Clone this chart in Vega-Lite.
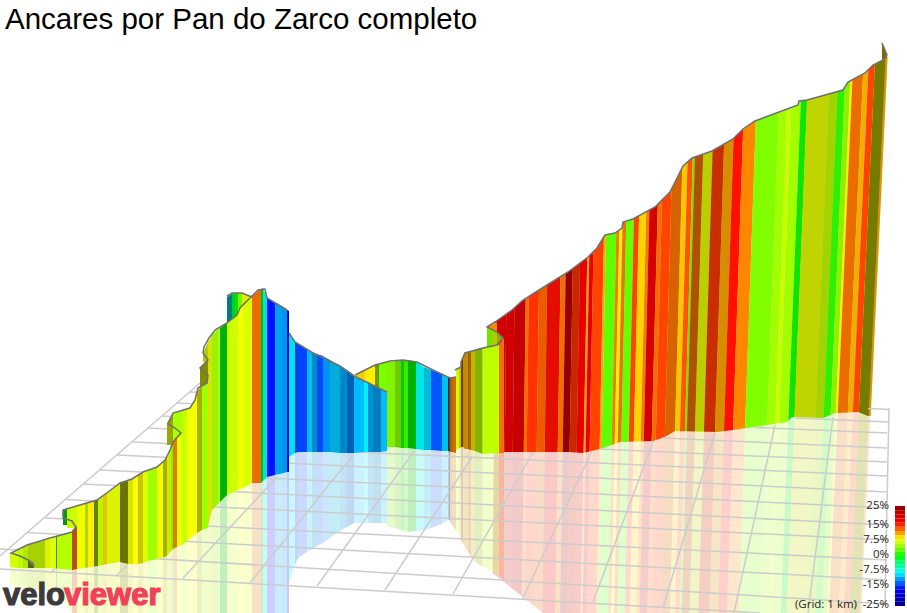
{"$schema":"https://vega.github.io/schema/vega-lite/v6.json","width":907,"height":613,"padding":0,"autosize":"none","background":"white","title":{"text":"Ancares por Pan do Zarco completo","anchor":"start","frame":"group","font":"Liberation Sans","fontSize":29.5,"fontWeight":"normal","color":"#000","offset":-35,"dx":5},"config":{"view":{"stroke":null}},
"datasets":{
"wallB":[
{"b":1,"y":40,"x":497.8,"xr":509.2,"g":19,"d":0},{"b":1,"y":613,"x":492.2,"xr":503,"g":19,"d":0},
{"b":2,"y":40,"x":509.2,"xr":517.5,"g":19,"d":0},{"b":2,"y":613,"x":503,"xr":510.9,"g":19,"d":0},
{"b":3,"y":40,"x":517.5,"xr":529,"g":19,"d":0.05},{"b":3,"y":613,"x":510.9,"xr":521.7,"g":19,"d":0.05},
{"b":4,"y":40,"x":529,"xr":532.1,"g":11.5,"d":0.05},{"b":4,"y":613,"x":521.7,"xr":524.6,"g":11.5,"d":0.05},
{"b":5,"y":40,"x":532.1,"xr":542.5,"g":13.5,"d":0},{"b":5,"y":613,"x":524.6,"xr":534.4,"g":13.5,"d":0},
{"b":6,"y":40,"x":542.5,"xr":550.8,"g":12,"d":0.08},{"b":6,"y":613,"x":534.4,"xr":542.3,"g":12,"d":0.08},
{"b":7,"y":40,"x":550.8,"xr":564.3,"g":14.5,"d":0.1},{"b":7,"y":613,"x":542.3,"xr":555.1,"g":14.5,"d":0.1},
{"b":8,"y":40,"x":564.3,"xr":569.5,"g":11.5,"d":0.05},{"b":8,"y":613,"x":555.1,"xr":560,"g":11.5,"d":0.05},
{"b":9,"y":40,"x":569.5,"xr":576.7,"g":24,"d":0},{"b":9,"y":613,"x":560,"xr":566.8,"g":24,"d":0},
{"b":10,"y":40,"x":576.7,"xr":584,"g":13.5,"d":0.2},{"b":10,"y":613,"x":566.8,"xr":573.7,"g":13.5,"d":0.2},
{"b":11,"y":40,"x":584,"xr":591.3,"g":17,"d":0},{"b":11,"y":613,"x":573.7,"xr":580.6,"g":17,"d":0},
{"b":12,"y":40,"x":591.3,"xr":593.4,"g":10,"d":0},{"b":12,"y":613,"x":580.6,"xr":582.5,"g":10,"d":0},
{"b":13,"y":40,"x":593.4,"xr":597.5,"g":17,"d":0},{"b":13,"y":613,"x":582.5,"xr":586.5,"g":17,"d":0},
{"b":14,"y":40,"x":597.5,"xr":607.9,"g":13,"d":0},{"b":14,"y":613,"x":586.5,"xr":596.3,"g":13,"d":0},
{"b":15,"y":40,"x":607.9,"xr":610,"g":10,"d":0},{"b":15,"y":613,"x":596.3,"xr":598.2,"g":10,"d":0},
{"b":16,"y":40,"x":610,"xr":620.4,"g":2.8,"d":0},{"b":16,"y":613,"x":598.2,"xr":608.1,"g":2.8,"d":0},
{"b":17,"y":40,"x":620.4,"xr":623.5,"g":11,"d":0.05},{"b":17,"y":613,"x":608.1,"xr":611,"g":11,"d":0.05},
{"b":18,"y":40,"x":623.5,"xr":626.6,"g":8,"d":0},{"b":18,"y":613,"x":611,"xr":614,"g":8,"d":0},
{"b":19,"y":40,"x":626.6,"xr":630.3,"g":11,"d":0.1},{"b":19,"y":613,"x":614,"xr":617.4,"g":11,"d":0.1},
{"b":20,"y":40,"x":630.3,"xr":638,"g":3,"d":0},{"b":20,"y":613,"x":617.4,"xr":624.8,"g":3,"d":0},
{"b":21,"y":40,"x":638,"xr":643.2,"g":13,"d":0},{"b":21,"y":613,"x":624.8,"xr":629.7,"g":13,"d":0},
{"b":22,"y":40,"x":643.2,"xr":650.5,"g":8.8,"d":0},{"b":22,"y":613,"x":629.7,"xr":636.5,"g":8.8,"d":0},
{"b":23,"y":40,"x":650.5,"xr":653.6,"g":11,"d":0.05},{"b":23,"y":613,"x":636.5,"xr":639.5,"g":11,"d":0.05},
{"b":24,"y":40,"x":653.6,"xr":662,"g":18.5,"d":0},{"b":24,"y":613,"x":639.5,"xr":647.3,"g":18.5,"d":0},
{"b":25,"y":40,"x":662,"xr":666.1,"g":11.5,"d":0.05},{"b":25,"y":613,"x":647.3,"xr":651.3,"g":11.5,"d":0.05},
{"b":26,"y":40,"x":666.1,"xr":675.5,"g":13,"d":0},{"b":26,"y":613,"x":651.3,"xr":660.1,"g":13,"d":0},
{"b":27,"y":40,"x":675.5,"xr":685.8,"g":11.5,"d":0.15},{"b":27,"y":613,"x":660.1,"xr":669.9,"g":11.5,"d":0.15},
{"b":28,"y":40,"x":685.8,"xr":691,"g":9,"d":0.02},{"b":28,"y":613,"x":669.9,"xr":674.8,"g":9,"d":0.02},
{"b":29,"y":40,"x":691,"xr":696.2,"g":12.5,"d":0},{"b":29,"y":613,"x":674.8,"xr":679.7,"g":12.5,"d":0},
{"b":30,"y":40,"x":696.2,"xr":698.3,"g":4,"d":0.1},{"b":30,"y":613,"x":679.7,"xr":681.7,"g":4,"d":0.1},
{"b":31,"y":40,"x":698.3,"xr":706.6,"g":11.5,"d":0.3},{"b":31,"y":613,"x":681.7,"xr":689.5,"g":11.5,"d":0.3},
{"b":32,"y":40,"x":706.6,"xr":716,"g":6.8,"d":0.18},{"b":32,"y":613,"x":689.5,"xr":698.4,"g":6.8,"d":0.18},
{"b":33,"y":40,"x":716,"xr":727.4,"g":13.3,"d":0.2},{"b":33,"y":613,"x":698.4,"xr":709.2,"g":13.3,"d":0.2},
{"b":34,"y":40,"x":727.4,"xr":736.8,"g":10,"d":0.15},{"b":34,"y":613,"x":709.2,"xr":718,"g":10,"d":0.15},
{"b":35,"y":40,"x":736.8,"xr":746.1,"g":14.5,"d":0},{"b":35,"y":613,"x":718,"xr":726.9,"g":14.5,"d":0},
{"b":36,"y":40,"x":746.1,"xr":758.6,"g":11,"d":0},{"b":36,"y":613,"x":726.9,"xr":738.6,"g":11,"d":0},
{"b":37,"y":40,"x":758.6,"xr":781.4,"g":3.8,"d":0},{"b":37,"y":613,"x":738.6,"xr":760.2,"g":3.8,"d":0},
{"b":38,"y":40,"x":781.4,"xr":789.7,"g":4.8,"d":0},{"b":38,"y":613,"x":760.2,"xr":768.1,"g":4.8,"d":0},
{"b":39,"y":40,"x":789.7,"xr":793.9,"g":5.9,"d":0},{"b":39,"y":613,"x":768.1,"xr":772,"g":5.9,"d":0},
{"b":40,"y":40,"x":793.9,"xr":803.2,"g":4.8,"d":0},{"b":40,"y":613,"x":772,"xr":780.8,"g":4.8,"d":0},
{"b":41,"y":40,"x":803.2,"xr":809.5,"g":0.6,"d":0.1},{"b":41,"y":613,"x":780.8,"xr":786.7,"g":0.6,"d":0.1},
{"b":42,"y":40,"x":809.5,"xr":831.3,"g":6.8,"d":0.16},{"b":42,"y":613,"x":786.7,"xr":807.3,"g":6.8,"d":0.16},
{"b":43,"y":40,"x":831.3,"xr":839.6,"g":5.8,"d":0.16},{"b":43,"y":613,"x":807.3,"xr":815.2,"g":5.8,"d":0.16},
{"b":44,"y":40,"x":839.6,"xr":846.9,"g":1.5,"d":0.05},{"b":44,"y":613,"x":815.2,"xr":822.1,"g":1.5,"d":0.05},
{"b":45,"y":40,"x":846.9,"xr":852.1,"g":4.5,"d":0.05},{"b":45,"y":613,"x":822.1,"xr":827,"g":4.5,"d":0.05},
{"b":46,"y":40,"x":852.1,"xr":854.2,"g":8,"d":0},{"b":46,"y":613,"x":827,"xr":828.9,"g":8,"d":0},
{"b":47,"y":40,"x":854.2,"xr":864.6,"g":11.5,"d":0.07},{"b":47,"y":613,"x":828.9,"xr":838.8,"g":11.5,"d":0.07},
{"b":48,"y":40,"x":864.6,"xr":869.7,"g":9.5,"d":0.05},{"b":48,"y":613,"x":838.8,"xr":843.7,"g":9.5,"d":0.05},
{"b":49,"y":40,"x":869.7,"xr":876,"g":13,"d":0},{"b":49,"y":613,"x":843.7,"xr":849.6,"g":13,"d":0},
{"b":50,"y":40,"x":876,"xr":886.4,"g":7.2,"d":0.52},{"b":50,"y":613,"x":849.6,"xr":859.4,"g":7.2,"d":0.52},
{"b":51,"y":40,"x":886.4,"xr":888.4,"g":10,"d":0.12},{"b":51,"y":613,"x":859.4,"xr":861.3,"g":10,"d":0.12}
],
"wallBack":[
{"b":1,"x":63,"t":510,"u":525,"g":0,"d":0.4},{"b":1,"x":67,"t":508,"u":525,"g":0,"d":0.4},
{"b":2,"x":67,"t":508,"u":528,"g":6,"d":0},{"b":2,"x":78,"t":505,"u":528,"g":6,"d":0},
{"b":3,"x":167,"t":423,"u":445,"g":7,"d":0.35},{"b":3,"x":173,"t":413,"u":445,"g":7,"d":0.35},
{"b":4,"x":173,"t":413,"u":440,"g":5,"d":0},{"b":4,"x":182,"t":410,"u":440,"g":5,"d":0},
{"b":5,"x":203,"t":353,"u":362,"g":6.5,"d":0.2},{"b":5,"x":209,"t":340,"u":362,"g":6.5,"d":0.2},
{"b":6,"x":200,"t":368,"u":395,"g":7,"d":0.45},{"b":6,"x":208,"t":360,"u":395,"g":7,"d":0.45},
{"b":7,"x":227,"t":297,"u":330,"g":-7,"d":0.5},{"b":7,"x":232,"t":294,"u":325,"g":-7,"d":0.5},
{"b":8,"x":232,"t":294,"u":325,"g":-1.5,"d":0.2},{"b":8,"x":235,"t":293,"u":320,"g":-1.5,"d":0.2},
{"b":9,"x":235,"t":293,"u":320,"g":0,"d":0.1},{"b":9,"x":238,"t":293,"u":315,"g":0,"d":0.1},
{"b":10,"x":238,"t":293,"u":315,"g":4,"d":0.05},{"b":10,"x":242,"t":293,"u":312,"g":4,"d":0.05},
{"b":11,"x":242,"t":293,"u":312,"g":6.8,"d":0.05},{"b":11,"x":252,"t":297,"u":305,"g":6.8,"d":0.05},
{"b":12,"x":355,"t":375,"u":400,"g":8.5,"d":0.05},{"b":12,"x":365,"t":370,"u":400,"g":8.5,"d":0.05},
{"b":13,"x":365,"t":370,"u":405,"g":8,"d":0},{"b":13,"x":375,"t":365,"u":405,"g":8,"d":0},
{"b":14,"x":375,"t":365,"u":447,"g":5.5,"d":0.4},{"b":14,"x":379,"t":364,"u":447,"g":5.5,"d":0.4},
{"b":15,"x":379,"t":364,"u":447,"g":3.6,"d":0},{"b":15,"x":387,"t":362,"u":447,"g":3.6,"d":0},
{"b":16,"x":487,"t":327,"u":328,"g":11,"d":0},{"b":16,"x":497,"t":322,"u":332,"g":11,"d":0},
{"b":17,"x":487,"t":327,"u":349,"g":3.7,"d":0.1},{"b":17,"x":492,"t":329,"u":348,"g":3.7,"d":0.1},
{"b":18,"x":492,"t":329,"u":348,"g":6.5,"d":0.2},{"b":18,"x":497,"t":332,"u":346,"g":6.5,"d":0.2},
{"b":19,"x":497,"t":332,"u":346,"g":7,"d":0.35},{"b":19,"x":503,"t":338,"u":339,"g":7,"d":0.35},
{"b":20,"x":882,"t":43,"u":60,"g":9,"d":0.5},{"b":20,"x":887,"t":55,"u":58,"g":9,"d":0.5}
],
"wallFront":[
{"b":1,"x":10,"t":553.5,"u":567,"r":584,"g":6.2,"d":0},{"b":1,"x":18,"t":550,"u":568,"r":586,"g":6.2,"d":0},
{"b":2,"x":18,"t":550,"u":568,"r":586,"g":5.4,"d":0},{"b":2,"x":23,"t":547.5,"u":568,"r":588,"g":5.4,"d":0},
{"b":3,"x":23,"t":547.5,"u":568,"r":588,"g":6,"d":0.1},{"b":3,"x":28,"t":545,"u":568,"r":589,"g":6,"d":0.1},
{"b":4,"x":28,"t":545,"u":568,"r":589,"g":6,"d":0.18},{"b":4,"x":45,"t":540,"u":568,"r":590,"g":6,"d":0.18},
{"b":5,"x":45,"t":540,"u":568,"r":590,"g":6.8,"d":0.05},{"b":5,"x":50,"t":538.5,"u":568,"r":591,"g":6.8,"d":0.05},
{"b":6,"x":50,"t":538.5,"u":568,"r":591,"g":6.5,"d":0},{"b":6,"x":56,"t":536.5,"u":568.5,"r":592,"g":6.5,"d":0},
{"b":7,"x":56,"t":536.5,"u":568.5,"r":592,"g":6,"d":0.5},{"b":7,"x":57,"t":536,"u":568.5,"r":592,"g":6,"d":0.5},
{"b":8,"x":57,"t":536,"u":568.5,"r":592,"g":5.3,"d":0},{"b":8,"x":72,"t":532,"u":570,"r":613,"g":5.3,"d":0},
{"b":9,"x":72,"t":531,"u":570,"r":613,"g":12,"d":0.25},{"b":9,"x":77,"t":526,"u":569,"r":613,"g":12,"d":0.25},
{"b":10,"x":28,"t":560,"u":568,"r":568,"g":6,"d":0.5},{"b":10,"x":34,"t":566,"u":568,"r":568,"g":6,"d":0.5},
{"b":11,"x":77,"t":505,"u":569,"r":613,"g":7,"d":0},{"b":11,"x":82,"t":504,"u":568.5,"r":613,"g":7,"d":0},
{"b":12,"x":82,"t":504,"u":568.5,"r":613,"g":7.2,"d":0},{"b":12,"x":85,"t":503,"u":568,"r":613,"g":7.2,"d":0},
{"b":13,"x":85,"t":503,"u":568,"r":613,"g":6,"d":0.15},{"b":13,"x":88,"t":502.6,"u":567.5,"r":613,"g":6,"d":0.15},
{"b":14,"x":88,"t":502.6,"u":567.5,"r":613,"g":8,"d":0},{"b":14,"x":94,"t":501,"u":566.5,"r":613,"g":8,"d":0},
{"b":15,"x":94,"t":501,"u":566.5,"r":613,"g":6,"d":0.5},{"b":15,"x":98,"t":499.5,"u":566,"r":613,"g":6,"d":0.5},
{"b":16,"x":98,"t":499.5,"u":566,"r":613,"g":5.8,"d":0.05},{"b":16,"x":103,"t":496,"u":565,"r":613,"g":5.8,"d":0.05},
{"b":17,"x":103,"t":496,"u":565,"r":613,"g":8.5,"d":0.1},{"b":17,"x":107,"t":493,"u":564,"r":613,"g":8.5,"d":0.1},
{"b":18,"x":107,"t":493,"u":564,"r":613,"g":6.8,"d":0.05},{"b":18,"x":120,"t":483,"u":562,"r":613,"g":6.8,"d":0.05},
{"b":19,"x":120,"t":483,"u":562,"r":613,"g":7,"d":0.55},{"b":19,"x":128,"t":481,"u":564,"r":613,"g":7,"d":0.55},
{"b":20,"x":128,"t":481,"u":564,"r":613,"g":7,"d":0.1},{"b":20,"x":133,"t":478,"u":564,"r":613,"g":7,"d":0.1},
{"b":21,"x":133,"t":478,"u":564,"r":613,"g":7.3,"d":0},{"b":21,"x":138,"t":475,"u":564,"r":613,"g":7.3,"d":0},
{"b":22,"x":138,"t":475,"u":564,"r":613,"g":7.8,"d":0.2},{"b":22,"x":143,"t":472,"u":563,"r":613,"g":7.8,"d":0.2},
{"b":23,"x":143,"t":472,"u":563,"r":613,"g":6.5,"d":0},{"b":23,"x":148,"t":470,"u":561,"r":613,"g":6.5,"d":0},
{"b":24,"x":148,"t":470,"u":561,"r":613,"g":4.7,"d":0},{"b":24,"x":157,"t":467,"u":559,"r":613,"g":4.7,"d":0},
{"b":25,"x":157,"t":467,"u":559,"r":613,"g":7.2,"d":0},{"b":25,"x":163,"t":462,"u":557.5,"r":613,"g":7.2,"d":0},
{"b":26,"x":163,"t":462,"u":557.5,"r":613,"g":7,"d":0.3},{"b":26,"x":167,"t":457,"u":556,"r":613,"g":7,"d":0.3},
{"b":27,"x":167,"t":457,"u":556,"r":613,"g":7.2,"d":0.1},{"b":27,"x":171,"t":447,"u":551,"r":613,"g":7.2,"d":0.1},
{"b":28,"x":171,"t":447,"u":551,"r":613,"g":3,"d":0},{"b":28,"x":173,"t":442,"u":549,"r":613,"g":3,"d":0},
{"b":29,"x":173,"t":442,"u":549,"r":613,"g":11,"d":0.1},{"b":29,"x":177,"t":437,"u":547,"r":613,"g":11,"d":0.1},
{"b":30,"x":177,"t":437,"u":547,"r":613,"g":6.8,"d":0},{"b":30,"x":182,"t":433,"u":545,"r":613,"g":6.8,"d":0},
{"b":31,"x":182,"t":410,"u":545,"r":613,"g":5.8,"d":0},{"b":31,"x":187,"t":409,"u":541,"r":613,"g":5.8,"d":0},
{"b":32,"x":187,"t":409,"u":541,"r":613,"g":7.2,"d":0},{"b":32,"x":192,"t":405,"u":537,"r":613,"g":7.2,"d":0},{"b":32,"x":197,"t":392,"u":533,"r":613,"g":7.2,"d":0},
{"b":33,"x":197,"t":392,"u":533,"r":613,"g":7,"d":0.3},{"b":33,"x":202,"t":385,"u":530,"r":613,"g":7,"d":0.3},
{"b":34,"x":202,"t":385,"u":530,"r":613,"g":4.7,"d":0},{"b":34,"x":208,"t":383,"u":528,"r":613,"g":4.7,"d":0},
{"b":35,"x":208,"t":342,"u":526,"r":613,"g":7,"d":0.1},{"b":35,"x":212,"t":335,"u":510,"r":613,"g":7,"d":0.1},
{"b":36,"x":212,"t":335,"u":510,"r":613,"g":4.8,"d":0.05},{"b":36,"x":218,"t":329,"u":504,"r":613,"g":4.8,"d":0.05},
{"b":37,"x":218,"t":329,"u":504,"r":613,"g":5.3,"d":0},{"b":37,"x":220,"t":328,"u":502,"r":613,"g":5.3,"d":0},
{"b":38,"x":220,"t":328,"u":502,"r":613,"g":0,"d":0.3},{"b":38,"x":227,"t":323,"u":495,"r":613,"g":0,"d":0.3},
{"b":39,"x":227,"t":323,"u":495,"r":613,"g":6,"d":0},{"b":39,"x":238,"t":314,"u":490,"r":613,"g":6,"d":0},
{"b":40,"x":238,"t":309,"u":490,"r":613,"g":7.2,"d":0},{"b":40,"x":243,"t":305,"u":488,"r":613,"g":7.2,"d":0},
{"b":41,"x":243,"t":304,"u":488,"r":613,"g":6.4,"d":0},{"b":41,"x":252,"t":296,"u":483,"r":613,"g":6.4,"d":0},
{"b":42,"x":252,"t":296,"u":483,"r":613,"g":11.5,"d":0.08},{"b":42,"x":261,"t":289,"u":483,"r":613,"g":11.5,"d":0.08},
{"b":43,"x":261,"t":289,"u":483,"r":613,"g":-1,"d":0.25},{"b":43,"x":263,"t":288,"u":481,"r":613,"g":-1,"d":0.25},
{"b":44,"x":263,"t":288,"u":481,"r":613,"g":-7,"d":0.1},{"b":44,"x":267,"t":298,"u":477,"r":613,"g":-7,"d":0.1},
{"b":45,"x":267,"t":298,"u":477,"r":613,"g":-14.5,"d":0},{"b":45,"x":275,"t":303,"u":475,"r":613,"g":-14.5,"d":0},
{"b":46,"x":275,"t":303,"u":475,"r":613,"g":-10,"d":0.05},{"b":46,"x":282,"t":306,"u":473.5,"r":613,"g":-10,"d":0.05},
{"b":47,"x":282,"t":306,"u":473.5,"r":613,"g":-10,"d":0.1},{"b":47,"x":287,"t":310,"u":472,"r":613,"g":-10,"d":0.1},
{"b":48,"x":287,"t":310,"u":472,"r":613,"g":-15,"d":0.1},{"b":48,"x":289,"t":311,"u":472,"r":613,"g":-15,"d":0.1},
{"b":49,"x":289,"t":333,"u":457,"r":582,"g":-8,"d":0.05},{"b":49,"x":295,"t":342,"u":453,"r":565,"g":-8,"d":0.05},
{"b":50,"x":295,"t":342,"u":453,"r":565,"g":-13,"d":0.1},{"b":50,"x":298,"t":344,"u":452,"r":558,"g":-13,"d":0.1},
{"b":51,"x":298,"t":344,"u":452,"r":558,"g":-13,"d":0},{"b":51,"x":307,"t":349,"u":452,"r":552,"g":-13,"d":0},
{"b":52,"x":307,"t":349,"u":452,"r":552,"g":-9.5,"d":0},{"b":52,"x":312,"t":352,"u":452,"r":549,"g":-9.5,"d":0},
{"b":53,"x":312,"t":352,"u":452,"r":549,"g":-9.5,"d":0.25},{"b":53,"x":317,"t":354,"u":452,"r":546,"g":-9.5,"d":0.25},
{"b":54,"x":317,"t":354,"u":452,"r":546,"g":-12.8,"d":0},{"b":54,"x":323,"t":356,"u":452,"r":543,"g":-12.8,"d":0},
{"b":55,"x":323,"t":356,"u":452,"r":543,"g":-10.5,"d":0.05},{"b":55,"x":330,"t":360,"u":452,"r":538,"g":-10.5,"d":0.05},
{"b":56,"x":330,"t":360,"u":452,"r":538,"g":-9,"d":0.15},{"b":56,"x":340,"t":366,"u":453,"r":531,"g":-9,"d":0.15},
{"b":57,"x":340,"t":366,"u":453,"r":531,"g":-10,"d":0.2},{"b":57,"x":347,"t":370,"u":453,"r":527,"g":-10,"d":0.2},
{"b":58,"x":347,"t":370,"u":453,"r":527,"g":-11,"d":0.3},{"b":58,"x":354,"t":375,"u":453,"r":523,"g":-11,"d":0.3},
{"b":59,"x":354,"t":377,"u":453,"r":523,"g":-9.5,"d":0},{"b":59,"x":364,"t":380,"u":452,"r":523,"g":-9.5,"d":0},
{"b":60,"x":364,"t":380,"u":452,"r":523,"g":-8,"d":0},{"b":60,"x":368,"t":382,"u":452,"r":523,"g":-8,"d":0},
{"b":61,"x":368,"t":382,"u":452,"r":523,"g":-10,"d":0.15},{"b":61,"x":373,"t":385,"u":452,"r":523,"g":-10,"d":0.15},
{"b":62,"x":373,"t":385,"u":452,"r":523,"g":-10,"d":0.25},{"b":62,"x":381,"t":389,"u":452,"r":523,"g":-10,"d":0.25},
{"b":63,"x":381,"t":389,"u":452,"r":523,"g":-9.5,"d":0},{"b":63,"x":387,"t":392,"u":451,"r":523,"g":-9.5,"d":0},
{"b":64,"x":387,"t":362,"u":447,"r":526,"g":4,"d":0.05},{"b":64,"x":395,"t":361,"u":447,"r":528,"g":4,"d":0.05},
{"b":65,"x":395,"t":361,"u":447,"r":528,"g":4,"d":0.2},{"b":65,"x":401,"t":360,"u":448,"r":530,"g":4,"d":0.2},
{"b":66,"x":401,"t":360,"u":448,"r":530,"g":0,"d":0.2},{"b":66,"x":404,"t":360,"u":448,"r":531,"g":0,"d":0.2},
{"b":67,"x":404,"t":360,"u":448,"r":531,"g":2,"d":0.1},{"b":67,"x":408,"t":360,"u":448,"r":532,"g":2,"d":0.1},
{"b":68,"x":408,"t":360,"u":448,"r":532,"g":0,"d":0.3},{"b":68,"x":416,"t":362,"u":449,"r":531,"g":0,"d":0.3},
{"b":69,"x":416,"t":362,"u":449,"r":531,"g":-7.5,"d":0.1},{"b":69,"x":424,"t":367,"u":450,"r":530,"g":-7.5,"d":0.1},
{"b":70,"x":424,"t":367,"u":450,"r":530,"g":-8.5,"d":0.15},{"b":70,"x":431,"t":370,"u":450,"r":528,"g":-8.5,"d":0.15},
{"b":71,"x":431,"t":370,"u":450,"r":528,"g":-12.5,"d":0},{"b":71,"x":442,"t":374,"u":451,"r":524,"g":-12.5,"d":0},
{"b":72,"x":442,"t":374,"u":451,"r":524,"g":-9,"d":0.05},{"b":72,"x":448,"t":377.5,"u":451,"r":520,"g":-9,"d":0.05},
{"b":73,"x":448,"t":377.5,"u":451,"r":520,"g":-13,"d":0.4},{"b":73,"x":450,"t":378,"u":451,"r":520,"g":-13,"d":0.4},
{"b":74,"x":449,"t":378,"u":452,"r":520,"g":10.5,"d":0.35},{"b":74,"x":452,"t":377,"u":452,"r":525,"g":10.5,"d":0.35},
{"b":75,"x":452,"t":377,"u":452,"r":525,"g":11,"d":0.2},{"b":75,"x":456,"t":377,"u":453,"r":530,"g":11,"d":0.2},
{"b":76,"x":456,"t":370,"u":450,"r":530,"g":6,"d":0},{"b":76,"x":459,"t":368,"u":448,"r":535,"g":6,"d":0},
{"b":77,"x":459,"t":368,"u":448,"r":535,"g":7,"d":0.2},{"b":77,"x":461,"t":367,"u":448,"r":540,"g":7,"d":0.2},
{"b":78,"x":461,"t":362,"u":447,"r":540,"g":12,"d":0.5},{"b":78,"x":463,"t":358,"u":447,"r":543,"g":12,"d":0.5},
{"b":79,"x":463,"t":358,"u":447,"r":543,"g":9,"d":0.3},{"b":79,"x":465,"t":353,"u":449,"r":547,"g":9,"d":0.3},
{"b":80,"x":465,"t":353,"u":449,"r":547,"g":10,"d":0.2},{"b":80,"x":468,"t":352,"u":449,"r":552,"g":10,"d":0.2},
{"b":81,"x":468,"t":352,"u":449,"r":552,"g":10,"d":0.4},{"b":81,"x":471,"t":351,"u":450,"r":557,"g":10,"d":0.4},
{"b":82,"x":471,"t":351,"u":450,"r":557,"g":8.5,"d":0.2},{"b":82,"x":475,"t":350,"u":451,"r":562,"g":8.5,"d":0.2},
{"b":83,"x":475,"t":350,"u":451,"r":562,"g":5.5,"d":0.3},{"b":83,"x":482.5,"t":348,"u":454,"r":567,"g":5.5,"d":0.3},
{"b":84,"x":482.5,"t":348,"u":454,"r":567,"g":5.6,"d":0},{"b":84,"x":499,"t":345,"u":453,"r":575,"g":5.6,"d":0},
{"b":85,"x":499,"t":345,"u":453,"r":575,"g":11.5,"d":0.05},{"b":85,"x":504,"t":338,"u":453,"r":580,"g":11.5,"d":0.05}
],
"ridge":[
{"s":1,"x":34,"y":567},{"s":1,"x":33,"y":563},{"s":1,"x":28,"y":560},{"s":1,"x":20,"y":556},{"s":1,"x":11,"y":553},{"s":1,"x":27,"y":545},{"s":1,"x":50,"y":538},{"s":1,"x":72,"y":532},{"s":1,"x":76,"y":527},{"s":1,"x":72,"y":521},{"s":1,"x":63,"y":518},{"s":1,"x":63,"y":510},{"s":1,"x":80,"y":505},{"s":1,"x":97,"y":500},{"s":1,"x":108,"y":492},{"s":1,"x":120,"y":483},{"s":1,"x":132,"y":479},{"s":1,"x":143,"y":472},{"s":1,"x":157,"y":467},{"s":1,"x":165,"y":460},{"s":1,"x":170,"y":450},{"s":1,"x":173,"y":442},{"s":1,"x":181,"y":433},{"s":1,"x":175,"y":428},{"s":1,"x":168,"y":424},{"s":1,"x":173,"y":413},{"s":1,"x":190,"y":408},{"s":1,"x":195,"y":400},{"s":1,"x":198,"y":388},{"s":1,"x":207,"y":383},{"s":1,"x":208,"y":375},{"s":1,"x":200,"y":368},{"s":1,"x":208,"y":360},{"s":1,"x":203,"y":353},{"s":1,"x":204,"y":347},{"s":1,"x":209,"y":338},{"s":1,"x":215,"y":330},{"s":1,"x":227,"y":323},{"s":1,"x":237,"y":315},{"s":1,"x":240,"y":308},{"s":1,"x":250,"y":298},{"s":1,"x":258,"y":290},{"s":1,"x":265,"y":289},{"s":1,"x":267,"y":298},{"s":1,"x":287,"y":310},
{"s":2,"x":227,"y":296},{"s":2,"x":232,"y":293},{"s":2,"x":242,"y":293},{"s":2,"x":252,"y":297},
{"s":3,"x":289,"y":333},{"s":3,"x":295,"y":342},{"s":3,"x":313,"y":353},{"s":3,"x":340,"y":366},{"s":3,"x":354,"y":376},{"s":3,"x":387,"y":392},
{"s":4,"x":355,"y":375},{"s":4,"x":365,"y":370},{"s":4,"x":375,"y":365},{"s":4,"x":390,"y":361},{"s":4,"x":403,"y":360},{"s":4,"x":417,"y":362},{"s":4,"x":433,"y":370},{"s":4,"x":450,"y":378},{"s":4,"x":456,"y":377},
{"s":5,"x":455,"y":370},{"s":5,"x":461,"y":367},{"s":5,"x":461,"y":362},{"s":5,"x":465,"y":353},{"s":5,"x":483,"y":348},{"s":5,"x":497,"y":345},{"s":5,"x":503,"y":338},{"s":5,"x":497,"y":332},{"s":5,"x":487,"y":327},{"s":5,"x":495,"y":322},{"s":5,"x":512,"y":310},{"s":5,"x":523,"y":300},{"s":5,"x":547,"y":285},{"s":5,"x":568,"y":272},{"s":5,"x":588,"y":257},{"s":5,"x":597,"y":248},{"s":5,"x":605,"y":235},{"s":5,"x":615,"y":233},{"s":5,"x":622,"y":228},{"s":5,"x":623,"y":222},{"s":5,"x":633,"y":219},{"s":5,"x":655,"y":207},{"s":5,"x":670,"y":192},{"s":5,"x":675,"y":182},{"s":5,"x":683,"y":166},{"s":5,"x":692,"y":158},{"s":5,"x":712,"y":151},{"s":5,"x":733,"y":139},{"s":5,"x":743,"y":129},{"s":5,"x":755,"y":121},{"s":5,"x":798,"y":105},{"s":5,"x":799,"y":101},{"s":5,"x":807,"y":100},{"s":5,"x":843,"y":90},{"s":5,"x":848,"y":82},{"s":5,"x":865,"y":73},{"s":5,"x":873,"y":65},{"s":5,"x":883,"y":60},{"s":5,"x":887,"y":55},{"s":5,"x":882,"y":43}
],
"topMask":[{"x":493,"y":323.5},{"x":495,"y":322},{"x":512,"y":310},{"x":523,"y":300},{"x":547,"y":285},{"x":568,"y":272},{"x":588,"y":257},{"x":597,"y":248},{"x":605,"y":235},{"x":615,"y":233},{"x":622,"y":228},{"x":623,"y":222},{"x":633,"y":219},{"x":655,"y":207},{"x":670,"y":192},{"x":675,"y":182},{"x":683,"y":166},{"x":692,"y":158},{"x":712,"y":151},{"x":733,"y":139},{"x":743,"y":129},{"x":755,"y":121},{"x":798,"y":105},{"x":799,"y":101},{"x":807,"y":100},{"x":843,"y":90},{"x":848,"y":82},{"x":865,"y":73},{"x":873,"y":65},{"x":883,"y":60},{"x":887,"y":57},{"x":892,"y":57}],
"botMask":[{"x":488,"y":453},{"x":500,"y":452},{"x":568,"y":452},{"x":583,"y":453},{"x":600,"y":449},{"x":620,"y":442},{"x":653,"y":441},{"x":665,"y":437},{"x":675,"y":431},{"x":717,"y":432},{"x":733,"y":430},{"x":787,"y":422},{"x":792,"y":417},{"x":823,"y":418},{"x":835,"y":413},{"x":858,"y":412},{"x":868,"y":416},{"x":892,"y":416}],
"wedge":[{"x":490,"y":572},{"x":495,"y":575},{"x":523,"y":597},{"x":543,"y":613}],
"grid":[
{"x":0,"y":569,"x2":760,"y2":613},{"x":0,"y":549,"x2":887,"y2":604},{"x":27,"y":532.5,"x2":887,"y2":580},{"x":45,"y":518,"x2":887,"y2":560},{"x":65,"y":499.5,"x2":887,"y2":540},{"x":83,"y":484,"x2":887,"y2":525},{"x":100,"y":470,"x2":887,"y2":508},{"x":117,"y":455,"x2":887,"y2":492},{"x":133,"y":442,"x2":887,"y2":476},
{"x":147,"y":428,"x2":500,"y2":444},{"x":600,"y":449,"x2":887,"y2":462},{"x":162,"y":416,"x2":480,"y2":430},{"x":662,"y":438,"x2":887,"y2":448},{"x":177,"y":403,"x2":480,"y2":416},{"x":755,"y":427.5,"x2":887,"y2":433},{"x":190,"y":392,"x2":480,"y2":405},{"x":795,"y":418,"x2":888,"y2":422},{"x":868,"y":408.5,"x2":889,"y2":409.5},
{"x":0,"y":556,"x2":200,"y2":383},{"x":50,"y":573,"x2":57,"y2":567},{"x":117,"y":575,"x2":127,"y2":565},{"x":183,"y":578,"x2":277,"y2":477},{"x":250,"y":583,"x2":353,"y2":455},{"x":317,"y":586,"x2":415,"y2":450},{"x":385,"y":590,"x2":472,"y2":457},{"x":453,"y":594,"x2":533,"y2":452},{"x":522,"y":600,"x2":591,"y2":453},{"x":593,"y":602,"x2":653,"y2":442},{"x":663,"y":608,"x2":715,"y2":433},{"x":734,"y":613,"x2":775,"y2":425},{"x":808,"y":613,"x2":833,"y2":417},{"x":889,"y":408,"x2":885,"y2":604}
],
"legendBar":[
{"x":895,"x2":905,"y":506,"y2":510.2,"g":23.75},{"x":895,"x2":905,"y":510.2,"y2":514.3,"g":21.25},{"x":895,"x2":905,"y":514.3,"y2":518.5,"g":18.75},{"x":895,"x2":905,"y":518.5,"y2":522.7,"g":16.25},{"x":895,"x2":905,"y":522.7,"y2":526.8,"g":14.06},{"x":895,"x2":905,"y":526.8,"y2":531,"g":12.19},{"x":895,"x2":905,"y":531,"y2":535.2,"g":10.31},{"x":895,"x2":905,"y":535.2,"y2":539.3,"g":8.44},{"x":895,"x2":905,"y":539.3,"y2":543.5,"g":6.56},{"x":895,"x2":905,"y":543.5,"y2":547.7,"g":4.69},{"x":895,"x2":905,"y":547.7,"y2":551.8,"g":2.81},{"x":895,"x2":905,"y":551.8,"y2":556,"g":0.94},{"x":895,"x2":905,"y":556,"y2":560.2,"g":-0.94},{"x":895,"x2":905,"y":560.2,"y2":564.3,"g":-2.81},{"x":895,"x2":905,"y":564.3,"y2":568.5,"g":-4.69},{"x":895,"x2":905,"y":568.5,"y2":572.7,"g":-6.56},{"x":895,"x2":905,"y":572.7,"y2":576.8,"g":-8.44},{"x":895,"x2":905,"y":576.8,"y2":581,"g":-10.31},{"x":895,"x2":905,"y":581,"y2":585.2,"g":-12.19},{"x":895,"x2":905,"y":585.2,"y2":589.3,"g":-14.06},{"x":895,"x2":905,"y":589.3,"y2":593.5,"g":-16.25},{"x":895,"x2":905,"y":593.5,"y2":597.7,"g":-18.75},{"x":895,"x2":905,"y":597.7,"y2":601.8,"g":-21.25},{"x":895,"x2":905,"y":601.8,"y2":606,"g":-23.75}
],
"labels":[{"x":889,"y":506,"label":"25%"},{"x":889,"y":525,"label":"15%"},{"x":889,"y":540,"label":"7.5%"},{"x":889,"y":555,"label":"0%"},{"x":889,"y":570,"label":"-7.5%"},{"x":889,"y":585,"label":"-15%"},{"x":889,"y":605,"label":"-25%"},{"x":857,"y":605,"label":"(Grid: 1 km)"}]
},
"layer":[
{"data":{"name":"wallB"},"mark":{"type":"area","orient":"horizontal"},"encoding":{"y":{"field":"y","type":"quantitative","scale":{"domain":[613,0],"nice":false},"axis":null},"x":{"field":"x","type":"quantitative","scale":{"domain":[0,907],"nice":false},"axis":null,"stack":null},"x2":{"field":"xr"},"detail":{"field":"b"},"color":{"field":"g","type":"quantitative","legend":null,"scale":{"domain":[-25,-15,-7.5,0,7.5,15,25],"range":["#00008b","#0000ff","#00ffff","#00ff00","#ffff00","#ff0000","#8b0000"],"interpolate":"rgb"}}}},
{"data":{"name":"wallB"},"transform":[{"filter":"datum.d>0"},{"calculate":"datum.d*1.1","as":"s"}],"mark":{"type":"area","orient":"horizontal","color":"#000"},"encoding":{"y":{"field":"y","type":"quantitative","scale":{"domain":[613,0],"nice":false},"axis":null},"x":{"field":"x","type":"quantitative","scale":{"domain":[0,907],"nice":false},"axis":null,"stack":null},"x2":{"field":"xr"},"detail":{"field":"b"},"opacity":{"field":"s","type":"quantitative","scale":null,"legend":null}}},
{"data":{"name":"botMask"},"mark":{"type":"area","color":"#fff"},"encoding":{"x":{"field":"x","type":"quantitative","scale":{"domain":[0,907],"nice":false},"axis":null},"y":{"field":"y","type":"quantitative","scale":{"domain":[613,0],"nice":false},"axis":null,"stack":null},"y2":{"datum":613}}},
{"data":{"name":"wallB"},"mark":{"type":"area","orient":"horizontal","opacity":0.2},"encoding":{"y":{"field":"y","type":"quantitative","scale":{"domain":[613,0],"nice":false},"axis":null},"x":{"field":"x","type":"quantitative","scale":{"domain":[0,907],"nice":false},"axis":null,"stack":null},"x2":{"field":"xr"},"detail":{"field":"b"},"color":{"field":"g","type":"quantitative","legend":null}}},
{"data":{"name":"wallB"},"transform":[{"filter":"datum.d>0"},{"calculate":"datum.d*0.2","as":"s"}],"mark":{"type":"area","orient":"horizontal","color":"#000"},"encoding":{"y":{"field":"y","type":"quantitative","scale":{"domain":[613,0],"nice":false},"axis":null},"x":{"field":"x","type":"quantitative","scale":{"domain":[0,907],"nice":false},"axis":null,"stack":null},"x2":{"field":"xr"},"detail":{"field":"b"},"opacity":{"field":"s","type":"quantitative","scale":null,"legend":null}}},
{"data":{"name":"topMask"},"mark":{"type":"area","color":"#fff"},"encoding":{"x":{"field":"x","type":"quantitative","scale":{"domain":[0,907],"nice":false},"axis":null},"y":{"field":"y","type":"quantitative","scale":{"domain":[613,0],"nice":false},"axis":null,"stack":null},"y2":{"datum":0}}},
{"data":{"name":"wedge"},"mark":{"type":"area","color":"#fff"},"encoding":{"x":{"field":"x","type":"quantitative","scale":{"domain":[0,907],"nice":false},"axis":null},"y":{"field":"y","type":"quantitative","scale":{"domain":[613,0],"nice":false},"axis":null,"stack":null},"y2":{"datum":613}}},
{"data":{"name":"wallFront"},"mark":{"type":"area","opacity":0.2},"encoding":{"x":{"field":"x","type":"quantitative","scale":{"domain":[0,907],"nice":false},"axis":null},"y":{"field":"u","type":"quantitative","scale":{"domain":[613,0],"nice":false},"axis":null,"stack":null},"y2":{"field":"r"},"detail":{"field":"b"},"color":{"field":"g","type":"quantitative","legend":null}}},
{"data":{"name":"wallFront"},"transform":[{"filter":"datum.d>0"},{"calculate":"datum.d*0.2","as":"s"}],"mark":{"type":"area","color":"#000"},"encoding":{"x":{"field":"x","type":"quantitative","scale":{"domain":[0,907],"nice":false},"axis":null},"y":{"field":"u","type":"quantitative","scale":{"domain":[613,0],"nice":false},"axis":null,"stack":null},"y2":{"field":"r"},"detail":{"field":"b"},"opacity":{"field":"s","type":"quantitative","scale":null,"legend":null}}},
{"data":{"name":"grid"},"mark":{"type":"rule","color":"#cccccc","strokeWidth":1.5},"encoding":{"x":{"field":"x","type":"quantitative","scale":{"domain":[0,907],"nice":false},"axis":null},"y":{"field":"y","type":"quantitative","scale":{"domain":[613,0],"nice":false},"axis":null},"x2":{"field":"x2"},"y2":{"field":"y2"}}},
{"data":{"name":"wallBack"},"mark":{"type":"area"},"encoding":{"x":{"field":"x","type":"quantitative","scale":{"domain":[0,907],"nice":false},"axis":null},"y":{"field":"t","type":"quantitative","scale":{"domain":[613,0],"nice":false},"axis":null,"stack":null},"y2":{"field":"u"},"detail":{"field":"b"},"color":{"field":"g","type":"quantitative","legend":null}}},
{"data":{"name":"wallBack"},"transform":[{"filter":"datum.d>0"}],"mark":{"type":"area","color":"#000"},"encoding":{"x":{"field":"x","type":"quantitative","scale":{"domain":[0,907],"nice":false},"axis":null},"y":{"field":"t","type":"quantitative","scale":{"domain":[613,0],"nice":false},"axis":null,"stack":null},"y2":{"field":"u"},"detail":{"field":"b"},"opacity":{"field":"d","type":"quantitative","scale":null,"legend":null}}},
{"data":{"name":"wallFront"},"mark":{"type":"area"},"encoding":{"x":{"field":"x","type":"quantitative","scale":{"domain":[0,907],"nice":false},"axis":null},"y":{"field":"t","type":"quantitative","scale":{"domain":[613,0],"nice":false},"axis":null,"stack":null},"y2":{"field":"u"},"detail":{"field":"b"},"color":{"field":"g","type":"quantitative","legend":null}}},
{"data":{"name":"wallFront"},"transform":[{"filter":"datum.d>0"}],"mark":{"type":"area","color":"#000"},"encoding":{"x":{"field":"x","type":"quantitative","scale":{"domain":[0,907],"nice":false},"axis":null},"y":{"field":"t","type":"quantitative","scale":{"domain":[613,0],"nice":false},"axis":null,"stack":null},"y2":{"field":"u"},"detail":{"field":"b"},"opacity":{"field":"d","type":"quantitative","scale":null,"legend":null}}},
{"data":{"name":"ridge"},"mark":{"type":"line","color":"#707070","strokeWidth":1.5},"encoding":{"x":{"field":"x","type":"quantitative","scale":{"domain":[0,907],"nice":false},"axis":null},"y":{"field":"y","type":"quantitative","scale":{"domain":[613,0],"nice":false},"axis":null},"detail":{"field":"s"},"order":{"value":null}}},
{"data":{"name":"legendBar"},"mark":{"type":"rect"},"encoding":{"x":{"field":"x","type":"quantitative","scale":{"domain":[0,907],"nice":false},"axis":null},"x2":{"field":"x2"},"y":{"field":"y","type":"quantitative","scale":{"domain":[613,0],"nice":false},"axis":null},"y2":{"field":"y2"},"color":{"field":"g","type":"quantitative","legend":null}}},
{"data":{"name":"labels"},"mark":{"type":"text","align":"right","baseline":"middle","font":"Open Sans","fontSize":11.5,"color":"#222"},"encoding":{"x":{"field":"x","type":"quantitative","scale":{"domain":[0,907],"nice":false},"axis":null},"y":{"field":"y","type":"quantitative","scale":{"domain":[613,0],"nice":false},"axis":null},"text":{"field":"label"}}},
{"data":{"values":[{"x":3,"y":605,"w":"velo"}]},"mark":{"type":"text","align":"left","baseline":"alphabetic","font":"Liberation Sans","fontWeight":"bold","fontSize":31,"color":"#3d3a3a","stroke":"#3d3a3a","strokeWidth":1.2},"encoding":{"x":{"field":"x","type":"quantitative","scale":{"domain":[0,907],"nice":false},"axis":null},"y":{"field":"y","type":"quantitative","scale":{"domain":[613,0],"nice":false},"axis":null},"text":{"field":"w"}}},
{"data":{"values":[{"x":64,"y":605,"w":"viewer"}]},"mark":{"type":"text","align":"left","baseline":"alphabetic","font":"Liberation Sans","fontWeight":"bold","fontSize":31,"color":"#f0405a","stroke":"#f0405a","strokeWidth":1.2},"encoding":{"x":{"field":"x","type":"quantitative","scale":{"domain":[0,907],"nice":false},"axis":null},"y":{"field":"y","type":"quantitative","scale":{"domain":[613,0],"nice":false},"axis":null},"text":{"field":"w"}}}
]}
